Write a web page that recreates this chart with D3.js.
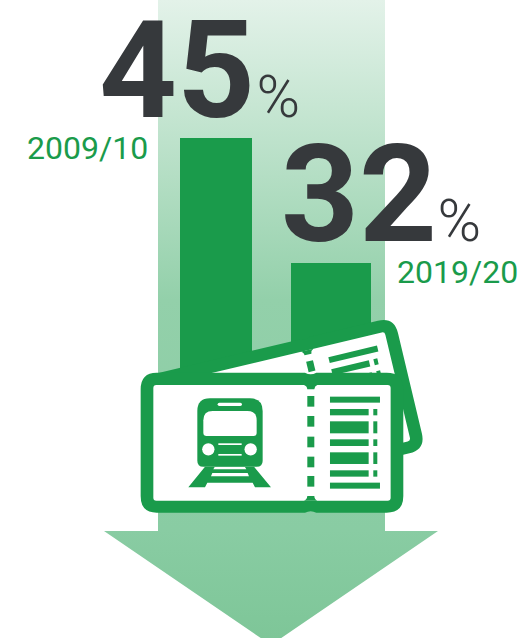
<!DOCTYPE html>
<html><head><meta charset="utf-8">
<script src="https://cdn.jsdelivr.net/npm/d3@7"></script>
<style>html,body{margin:0;padding:0;background:#fff;overflow:hidden}svg{display:block}text{font-family:Roboto,sans-serif}</style>
</head><body><div id="c"></div>
<script>
// Data
const periods = ["2009/10", "2019/20"];
const shares = [45, 32];
const unit = "%";

// Layout
const W = 521, H = 638;
const GREEN = "#1a9b4b", INK = "#36393c";
const barLeft = d3.scaleOrdinal().domain(periods).range([180, 291]);
const barWidth = d3.scaleOrdinal().domain(periods).range([72, 80]);
const y = d3.scaleLinear().domain([32, 45]).range([263, 138]);
const barBase = 420;
const valuePos = d3.scaleOrdinal().domain(periods).range([[99, 117], [281, 241]]);
const pctPos = d3.scaleOrdinal().domain(periods).range([[256.5, 117], [437.5, 241]]);
const labelPos = d3.scaleOrdinal().domain(periods).range([[27, 159], [397, 283]]);

const svg = d3.select("#c").append("svg").attr("width", W).attr("height", H);

const grad = svg.append("defs").append("linearGradient").attr("id", "fade")
  .attr("gradientUnits", "userSpaceOnUse").attr("x1", 0).attr("x2", 0).attr("y1", 0).attr("y2", H);
[[0, "#e3f2e9"], [0.47, "#93d0aa"], [0.83, "#89cca3"], [1, "#7ec698"]].forEach(([o, c]) =>
  grad.append("stop").attr("offset", o).attr("stop-color", c));

// Downward arrow
svg.append("path").attr("fill", "url(#fade)")
  .attr("d", "M158,0H385V531H438L271,645L104,531H158Z");

// Bars
svg.selectAll("rect.bar").data(periods).join("rect").attr("class", "bar")
  .attr("x", d => barLeft(d)).attr("width", d => barWidth(d))
  .attr("y", (d, i) => y(shares[i])).attr("height", (d, i) => barBase - y(shares[i]))
  .attr("fill", GREEN);

// Ticket pieces share one drawing, in a 3x grid anchored at (130,310)
const rows = [[260, 278, 1], [297, 316, 0], [334, 370, 0], [388, 408, 0], [427, 462, 0], [481, 500, 0], [518, 536, 1]];
const dashes = [[258, 290], [318, 350], [380, 412], [440, 472], [498, 530]];

function ticket(g, bottomInner, bottomOuter) {
  g.append("path").attr("fill", GREEN).attr("d",
    `M80,188H525Q542,197 559,188H770Q820,188 820,238V${bottomOuter - 50}Q820,${bottomOuter} 770,${bottomOuter}H559Q542,${bottomOuter - 9} 525,${bottomOuter}H80Q32,${bottomOuter} 32,${bottomOuter - 50}V238Q32,188 80,188Z`);
  g.append("rect").attr("x", 70).attr("y", 225).attr("width", 712).attr("height", bottomInner - 225)
    .attr("rx", 9).attr("fill", "#fff");
  // centre notches and perforation
  g.append("path").attr("fill", GREEN).attr("d",
    `M522,225H562Q554,228 553,238H532Q531,228 522,225Z M522,${bottomInner}H562Q554,${bottomInner - 3} 553,${bottomInner - 14}H532Q531,${bottomInner - 3} 522,${bottomInner}Z`);
  g.selectAll("rect.perf").data(dashes).join("rect").attr("class", "perf")
    .attr("x", 532).attr("width", 21).attr("y", d => d[0]).attr("height", d => d[1] - d[0]).attr("fill", GREEN);
  g.selectAll("rect.row").data(rows).join("rect").attr("class", "row")
    .attr("x", 600).attr("width", d => d[2] ? 150 : 116).attr("y", d => d[0]).attr("height", d => d[1] - d[0]).attr("fill", GREEN);
  g.selectAll("rect.tick").data(rows.filter(d => !d[2])).join("rect").attr("class", "tick")
    .attr("x", 730).attr("width", 12).attr("y", d => d[0]).attr("height", d => d[1] - d[0]).attr("fill", GREEN);
}

// Back ticket: inner top-right corner sits at page (385,331.7), tilted 13.4 degrees
ticket(svg.append("g").attr("transform", "translate(385,331.7) rotate(-13.4) translate(-391,-385) translate(130,310) scale(0.3333)"), 561, 597);
// Front ticket
const front = svg.append("g").attr("transform", "translate(130,310) scale(0.3333)");
ticket(front, 572, 608);

// Train icon
const t = front.append("g");
t.append("path").attr("fill", GREEN).attr("d",
  "M225,470L175,532H225L232,518H368L375,532H423L372,470Z");
t.append("path").attr("fill", "#fff").attr("d",
  "M254,471H345L349,478H250Z M247,489H353L357,499H243Z");
t.append("path").attr("fill", GREEN).attr("d",
  "M240,265H360Q398,265 398,303V452Q398,470 380,470H220Q202,470 202,452V303Q202,265 240,265Z");
t.append("path").attr("fill", "#fff").attr("d",
  "M248,303H352Q380,303 380,331V368Q380,378 370,378H230Q220,378 220,368V331Q220,303 248,303Z");
t.append("rect").attr("x", 263).attr("y", 278).attr("width", 73).attr("height", 10).attr("rx", 5).attr("fill", "#fff");
t.selectAll("circle").data([235, 362]).join("circle")
  .attr("cx", d => d).attr("cy", 418).attr("r", 18.5).attr("fill", "#fff");
t.selectAll("rect.gr").data([400, 432]).join("rect").attr("class", "gr")
  .attr("x", 265).attr("width", 70).attr("y", d => d).attr("height", 5).attr("fill", "#fff");

// Text
svg.selectAll("text.value").data(periods).join("text").attr("class", "value")
  .attr("x", d => valuePos(d)[0]).attr("y", d => valuePos(d)[1])
  .attr("font-size", 136).attr("font-weight", 700).attr("fill", INK)
  .text((d, i) => shares[i]);
svg.selectAll("text.pct").data(periods).join("text").attr("class", "pct")
  .attr("x", d => pctPos(d)[0]).attr("y", d => pctPos(d)[1])
  .attr("font-size", 59).attr("font-weight", 300).attr("fill", INK)
  .text(unit);
svg.selectAll("text.period").data(periods).join("text").attr("class", "period")
  .attr("x", d => labelPos(d)[0]).attr("y", d => labelPos(d)[1])
  .attr("font-size", 32).attr("fill", GREEN)
  .text(d => d);
</script></body></html>
